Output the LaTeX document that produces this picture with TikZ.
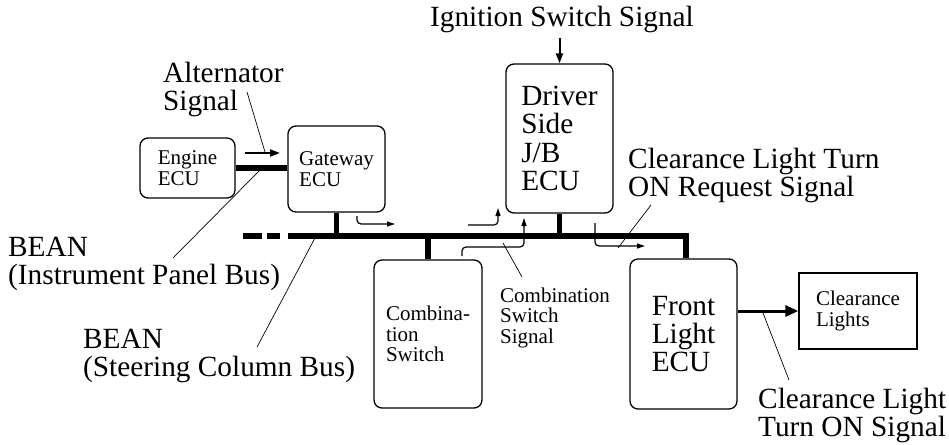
\documentclass[tikz,border=0pt]{standalone}
\usepackage{fontspec}
\setmainfont{Liberation Serif}
\usetikzlibrary{arrows.meta}
\newcommand\BigTxt{\fontsize{29.3}{28.3}\selectfont}
\newcommand\SmallTxt{\fontsize{21}{20.6}\selectfont}
\begin{document}
\begin{tikzpicture}[x=1pt,y=-1pt,
  ecubox/.style={draw, line width=1.3pt, rounded corners=8pt, align=left, inner sep=0pt},
  plainbox/.style={draw, line width=1.3pt, align=left, inner sep=0pt},
  bus/.style={line width=5.5pt, line join=miter},
  sig/.style={line width=1.2pt, rounded corners=4pt, -{Triangle[length=8pt,width=5pt]}},
  boldsig/.style={line width=2pt, -{Triangle[length=10pt,width=7pt]}},
  outsig/.style={line width=3pt, -{Triangle[length=13pt,width=11pt]}},
  leader/.style={line width=0.7pt},
  biglabel/.style={font=\BigTxt, align=left, inner sep=0pt},
  smalllabel/.style={font=\SmallTxt, align=left, inner sep=0pt}]
\useasboundingbox (0,0) rectangle (949,444);

% boxes
\node[ecubox, font=\SmallTxt, minimum width=95pt, minimum height=60pt] (engine) at (187.5,168) {Engine\\ECU};
\node[ecubox, font=\SmallTxt, minimum width=97pt, minimum height=86pt] (gateway) at (336.5,169) {Gateway\\ECU};
\node[ecubox, font=\BigTxt, minimum width=107pt, minimum height=149pt] (driver) at (559.5,138.5) {Driver\\Side\\J/B\\ECU};
\node[ecubox, font=\SmallTxt, minimum width=108pt, minimum height=148pt] (comb) at (428,334) {Combina-\\tion\\Switch};
\node[ecubox, font=\BigTxt, minimum width=107pt, minimum height=150pt] (front) at (683.5,334) {Front\\Light\\ECU};
\node[plainbox, font=\SmallTxt, minimum width=118pt, minimum height=76pt] (lights) at (858,311) {Clearance\\Lights};

% labels
\node[biglabel, anchor=base] (ign) at (562,27) {Ignition Switch Signal};
\node[biglabel, anchor=north west] (alt) at (163,62) {Alternator\\Signal};
\node[biglabel, anchor=north west] (beanip) at (8,236.5) {BEAN\\(Instrument Panel Bus)};
\node[biglabel, anchor=north west] (beansc) at (83,328.5) {BEAN\\(Steering Column Bus)};
\node[smalllabel, anchor=north west] (cslab) at (500,287.5) {Combination\\Switch\\Signal};
\node[biglabel, anchor=north west] (reqlab) at (628,148) {Clearance Light Turn\\ON Request Signal};
\node[biglabel, anchor=north west] (onlab) at (758,388) {Clearance Light\\Turn ON Signal};

% bus
\coordinate (busS) at (243,236);
\coordinate (busL) at (288,236);
\coordinate (busR) at (686,236);
\draw[bus, dash pattern=on 19pt off 5pt on 13pt off 8pt] (busS) -- (busL);
\draw[bus] (busL) -- (busR) -- (busR |- front.north);
\draw[bus] (gateway.south) -- (gateway.south |- busL);
\draw[bus] (driver.south) -- (driver.south |- busL);
\draw[bus] (comb.north) -- (comb.north |- busL);
\draw[bus] (engine.east) -- (engine.east -| gateway.west);

% signals
\draw[boldsig] ([yshift=-4pt]ign.south -| driver.north) -- (driver.north);
\coordinate (altA) at (245,153);
\coordinate (altB) at (280,153);
\draw[boldsig] (altA) -- (altB);
\draw[outsig] (front.east |- lights.west) -- (lights.west);

\coordinate (gwA) at (357,216);
\coordinate (gwB) at (395,224);
\draw[sig] (gwA) |- (gwB);
\coordinate (inA) at (468,225);
\coordinate (inB) at (498,208);
\draw[sig] (inA) -| (inB);
\coordinate (csA) at (462,256);
\coordinate (csB) at (524,218);
\draw[sig] (csA) -- (462,247) -- (524,247) -- (csB);
\coordinate (rqA) at (595,223);
\coordinate (rqB) at (645,246);
\draw[sig] (rqA) |- (rqB);

% leaders
\coordinate (l1a) at (247,92);  \coordinate (l1b) at (265,152);
\coordinate (l2a) at (262,168); \coordinate (l2b) at (173,258);
\coordinate (l3a) at (315,238); \coordinate (l3b) at (257,347);
\coordinate (l4a) at (503,243); \coordinate (l4b) at (522,277);
\coordinate (l5a) at (651,205); \coordinate (l5b) at (618,248);
\coordinate (l6a) at (763,313); \coordinate (l6b) at (789,380);
\draw[leader] (l1a) -- (l1b);
\draw[leader] (l2a) -- (l2b);
\draw[leader] (l3a) -- (l3b);
\draw[leader] (l4a) -- (l4b);
\draw[leader] (l5a) -- (l5b);
\draw[leader] (l6a) -- (l6b);
\end{tikzpicture}
\end{document}
